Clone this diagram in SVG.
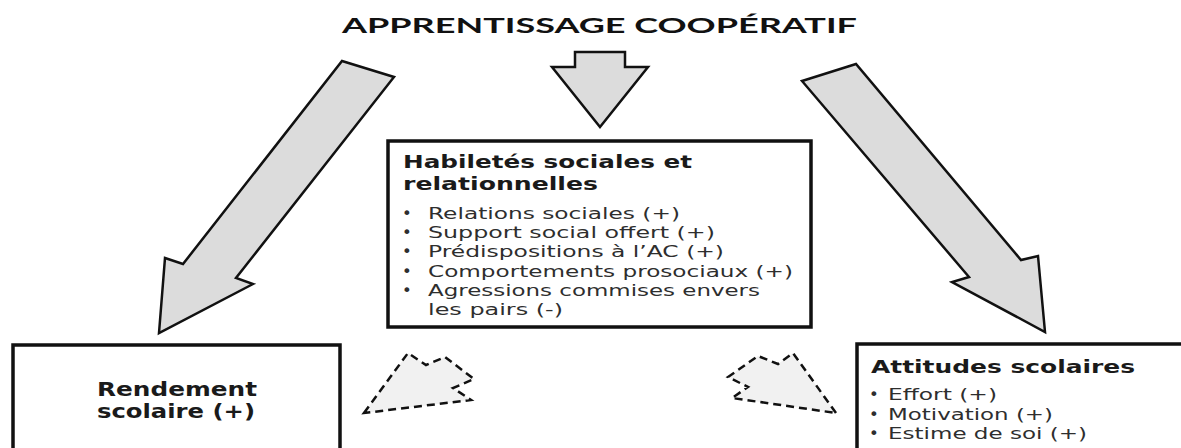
<svg xmlns="http://www.w3.org/2000/svg" width="1181" height="448" viewBox="0 0 1181 448">
<style>
.bg{fill:#ffffff}
.box{fill:#ffffff;stroke:#111111;stroke-width:3.5}
.arrow{fill:#dcdcdc;stroke:#111111;stroke-width:2.5;stroke-linejoin:miter}
.dash{fill:#f1f1f1;stroke:#111111;stroke-width:2.5;stroke-dasharray:8 5;stroke-linejoin:miter}
.title{font-family:Lato,"DejaVu Sans",sans-serif;font-weight:bold;font-size:21px;fill:#111111}
.head{font-family:"DejaVu Sans",Verdana,sans-serif;font-weight:bold;font-size:17px;fill:#1a1a1a}
.big{font-family:"DejaVu Sans",Verdana,sans-serif;font-weight:bold;font-size:19px;fill:#1a1a1a}
.big2{font-family:"DejaVu Sans",Verdana,sans-serif;font-weight:bold;font-size:18px;fill:#1a1a1a}
.item{font-family:"DejaVu Sans",Verdana,sans-serif;font-size:16.5px;fill:#2e2e2e}
</style>
<rect class="bg" x="0" y="0" width="1181" height="448"/>

<g id="title">
<text class="title" x="342" y="33" textLength="515" lengthAdjust="spacingAndGlyphs">APPRENTISSAGE COOPÉRATIF</text>
</g>

<g id="connectors">
<polygon class="arrow" points="575,52 625,52 625,67 648,67 600,127 552,67 575,67"/>
<polygon class="arrow" points="342,61 394,77 236,278 253,284 159,333 165,258 183,264"/>
<polygon class="arrow" points="802,81 856,64 1021,260 1038,256 1045,332 952,282 969,277"/>
<polygon class="dash" points="364,413 408,353 426,365 445,357 474,379 453,388 471,400"/>
<polygon class="dash" points="836,413 793,353 778,364 758,356 728,377 748,387 732,398"/>
</g>

<g id="habiletes">
<rect class="box" x="388" y="141" width="423" height="186"/>
<text class="head" x="403" y="168" textLength="289" lengthAdjust="spacingAndGlyphs">Habiletés sociales et</text>
<text class="head" x="403" y="190" textLength="195" lengthAdjust="spacingAndGlyphs">relationnelles</text>
<text class="item" x="402" y="219">•</text>
<text class="item" x="428" y="219" textLength="252" lengthAdjust="spacingAndGlyphs">Relations sociales (+)</text>
<text class="item" x="402" y="238">•</text>
<text class="item" x="428" y="238" textLength="287" lengthAdjust="spacingAndGlyphs">Support social offert (+)</text>
<text class="item" x="402" y="257">•</text>
<text class="item" x="428" y="257" textLength="296" lengthAdjust="spacingAndGlyphs">Prédispositions à l’AC (+)</text>
<text class="item" x="402" y="277">•</text>
<text class="item" x="428" y="277" textLength="365" lengthAdjust="spacingAndGlyphs">Comportements prosociaux (+)</text>
<text class="item" x="402" y="296">•</text>
<text class="item" x="428" y="296" textLength="332" lengthAdjust="spacingAndGlyphs">Agressions commises envers</text>
<text class="item" x="428" y="315" textLength="135" lengthAdjust="spacingAndGlyphs">les pairs (-)</text>
</g>

<g id="rendement">
<rect class="box" x="13" y="345" width="327" height="120"/>
<text class="big" x="97" y="396" textLength="160" lengthAdjust="spacingAndGlyphs">Rendement</text>
<text class="big" x="97" y="418" textLength="158" lengthAdjust="spacingAndGlyphs">scolaire (+)</text>
</g>

<g id="attitudes">
<rect class="box" x="857" y="344" width="340" height="120"/>
<text class="big2" x="871" y="373" textLength="264" lengthAdjust="spacingAndGlyphs">Attitudes scolaires</text>
<text class="item" x="869" y="400">•</text>
<text class="item" x="888" y="400" textLength="109" lengthAdjust="spacingAndGlyphs">Effort (+)</text>
<text class="item" x="869" y="420">•</text>
<text class="item" x="888" y="420" textLength="165" lengthAdjust="spacingAndGlyphs">Motivation (+)</text>
<text class="item" x="869" y="439">•</text>
<text class="item" x="888" y="439" textLength="199" lengthAdjust="spacingAndGlyphs">Estime de soi (+)</text>
</g>
</svg>
